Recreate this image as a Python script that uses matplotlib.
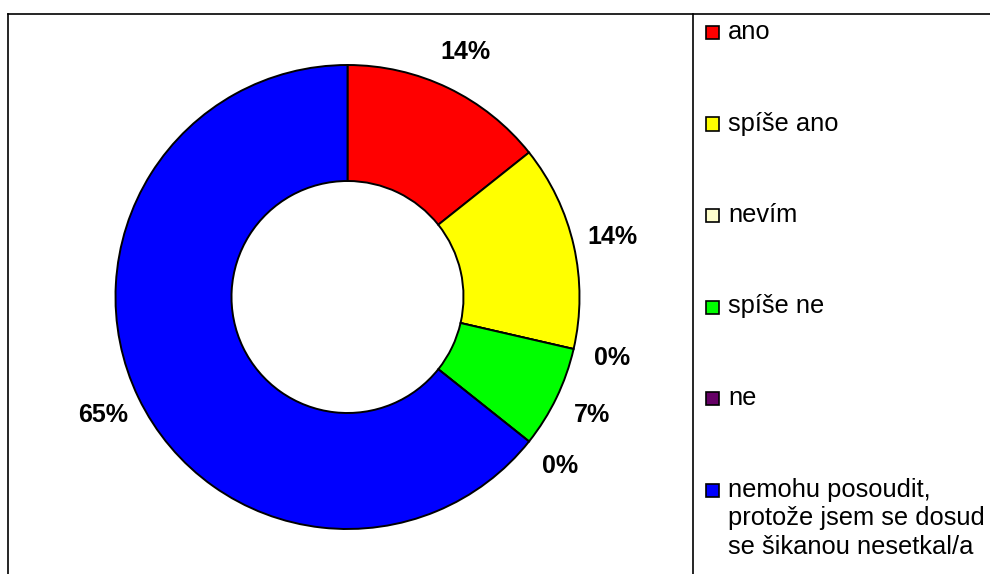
import matplotlib
matplotlib.use("Agg")
import matplotlib.pyplot as plt
from matplotlib.lines import Line2D
from matplotlib.patches import Rectangle

plt.rcParams['font.family'] = ['Liberation Sans', 'DejaVu Sans']

# ---- data ----
categories = ["ano", "spíše ano", "nevím", "spíše ne", "ne",
              "nemohu posoudit,\nprotože jsem se dosud\nse šikanou nesetkal/a"]
values = [14.3, 14.3, 0.0, 7.1, 0.0, 64.3]          # slice sizes
value_labels = ["14%", "14%", "0%", "7%", "0%", "65%"]  # printed labels
colors = ["#FF0000", "#FFFF00", "#FFFFCC", "#00FF00", "#660066", "#0000FF"]

W, H = 990, 574
fig = plt.figure(figsize=(W / 100, H / 100), dpi=100)
fig.patch.set_facecolor("white")

def fx(px):
    return px / W

def fy(py):
    return 1 - py / H

# ---- frame lines ----
lw_frame = 1.2
fig.add_artist(Line2D([fx(8), fx(8)], [fy(574), fy(14)], color="black", lw=lw_frame,
                      transform=fig.transFigure))
fig.add_artist(Line2D([fx(8), fx(990)], [fy(14), fy(14)], color="black", lw=lw_frame,
                      transform=fig.transFigure))
fig.add_artist(Line2D([fx(693), fx(693)], [fy(14), fy(574)], color="black", lw=lw_frame,
                      transform=fig.transFigure))

# ---- donut ----
cx, cy, R = 347.5, 297, 232
ax = fig.add_axes([fx(cx - R), fy(cy + R), 2 * R / W, 2 * R / H])
wedges, texts = ax.pie(values, labels=value_labels, colors=colors, startangle=90,
                       counterclock=False, radius=1.0, labeldistance=1.17,
                       wedgeprops=dict(width=0.5, edgecolor="black", linewidth=1.4),
                       textprops=dict(fontsize=18, fontweight="bold", color="black"))
for t in texts:
    t.set_ha("center")
    t.set_va("center")
ax.set_xlim(-1, 1)
ax.set_ylim(-1, 1)
ax.axis("off")

# ---- legend (manual) ----
y0, dy = 32.5, 91.5
msz = 13
line_px = 28.5
for i, (lab, col) in enumerate(zip(categories, colors)):
    yc = y0 + i * dy
    fig.add_artist(Rectangle((fx(706), fy(yc + msz / 2)), msz / W, msz / H,
                             facecolor=col, edgecolor="black", lw=1.2,
                             transform=fig.transFigure))
    for k, line in enumerate(lab.split("\n")):
        fig.text(fx(728), fy(yc + 6.5 + k * line_px), line, fontsize=18.4,
                 color="black", ha="left", va="baseline")

fig.savefig("out.png", dpi=100, facecolor="white")
